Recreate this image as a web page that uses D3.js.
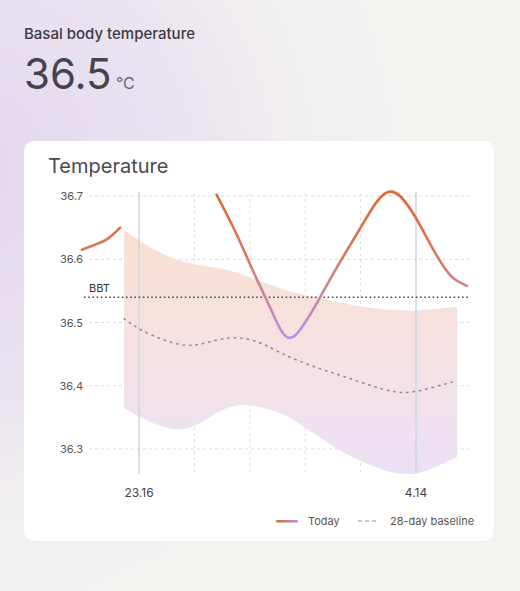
<!DOCTYPE html>
<html>
<head>
<meta charset="utf-8">
<script src="https://cdn.jsdelivr.net/npm/d3@7"></script>
<style>
  html, body { margin: 0; padding: 0; }
  body { width: 520px; height: 591px; overflow: hidden; font-family: Inter, "Noto Sans", sans-serif; }
</style>
</head>
<body>
<svg id="chart" width="520" height="591"></svg>
<script>
// header
var headerTitle = "Basal body temperature";
var currentValue = "36.5";
var unit = "°C";
var cardTitle = "Temperature";

// axes
var yTicks = [36.3, 36.4, 36.5, 36.6, 36.7];
var xTickDays = [0, 5];
var xTickLabels = ["23.16", "4.14"];
var gridDays = [1, 2, 3, 4];
var bbtValue = 36.54;

// today line, two segments (day offset, temp)
var todayEarlyDays = [-1.03, -0.76, -0.56, -0.34];
var todayEarlyTemps = [36.615, 36.624, 36.631, 36.650];
var todayLateDays = [1.40, 1.77, 2.06, 2.31, 2.46, 2.58, 2.69, 2.80, 2.91, 3.09, 3.27, 3.57, 3.99, 4.30, 4.50, 4.71, 5.00, 5.25, 5.56, 5.74, 5.92];
var todayLateTemps = [36.702, 36.640, 36.580, 36.535, 36.505, 36.484, 36.474, 36.477, 36.488, 36.512, 36.540, 36.588, 36.648, 36.695, 36.710, 36.704, 36.667, 36.624, 36.578, 36.565, 36.558];

// 28-day range band
var bandHighDays = [-0.27, 0.25, 0.79, 1.23, 1.64, 2.00, 2.60, 3.21, 3.81, 4.40, 5.00, 5.74];
var bandHighTemps = [36.646, 36.615, 36.594, 36.589, 36.583, 36.572, 36.551, 36.539, 36.528, 36.520, 36.518, 36.525];
var bandLowDays = [-0.27, 0.25, 0.69, 1.05, 1.46, 1.82, 2.18, 2.60, 3.00, 3.50, 4.03, 4.53, 5.00, 5.38, 5.74];
var bandLowTemps = [36.365, 36.339, 36.328, 36.336, 36.362, 36.372, 36.367, 36.357, 36.335, 36.303, 36.279, 36.262, 36.258, 36.272, 36.287];

// 28-day baseline
var baselineDays = [-0.27, 0.02, 0.43, 0.87, 1.23, 1.64, 2.00, 2.31, 2.60, 3.21, 3.81, 4.40, 4.84, 5.25, 5.74];
var baselineTemps = [36.506, 36.488, 36.472, 36.461, 36.468, 36.478, 36.474, 36.464, 36.449, 36.428, 36.412, 36.393, 36.387, 36.396, 36.408];

var legendLabels = ["Today", "28-day baseline"];

function zip(a, b) { return a.map(function(v, i) { return [v, b[i]]; }); }

var svg = d3.select("#chart");
var defs = svg.append("defs");

// page background
svg.append("rect").attr("width", 520).attr("height", 591).attr("fill", "#f3f2ef");
var bg = defs.append("radialGradient").attr("id", "bg")
  .attr("gradientUnits", "userSpaceOnUse")
  .attr("cx", -40).attr("cy", 170).attr("r", 470);
bg.append("stop").attr("offset", "0").attr("stop-color", "#e2d5ef").attr("stop-opacity", 1);
bg.append("stop").attr("offset", "0.5").attr("stop-color", "#e9e0f0").attr("stop-opacity", 0.8);
bg.append("stop").attr("offset", "1").attr("stop-color", "#f3f2ef").attr("stop-opacity", 0);
svg.append("rect").attr("width", 520).attr("height", 591).attr("fill", "url(#bg)");

var x = d3.scaleLinear().domain([-1, 6]).range([83.6, 471.4]);
var y = d3.scaleLinear().domain([36.3, 36.7]).range([449, 196]);

// gradients
var band = defs.append("linearGradient").attr("id", "band")
  .attr("gradientUnits", "userSpaceOnUse")
  .attr("x1", 0).attr("y1", y(36.65)).attr("x2", 0).attr("y2", y(36.26));
band.append("stop").attr("offset", "0").attr("stop-color", "#fae0d2");
band.append("stop").attr("offset", "0.55").attr("stop-color", "#f5e2e4");
band.append("stop").attr("offset", "1").attr("stop-color", "#ebe0f6");

var tg = defs.append("linearGradient").attr("id", "today")
  .attr("gradientUnits", "userSpaceOnUse")
  .attr("x1", 0).attr("y1", y(36.70)).attr("x2", 0).attr("y2", y(36.475));
tg.append("stop").attr("offset", "0").attr("stop-color", "#e2662c");
tg.append("stop").attr("offset", "0.45").attr("stop-color", "#d77a60");
tg.append("stop").attr("offset", "1").attr("stop-color", "#bd8fe8");

var lg = defs.append("linearGradient").attr("id", "todayLegend");
lg.append("stop").attr("offset", "0").attr("stop-color", "#e2662c");
lg.append("stop").attr("offset", "1").attr("stop-color", "#bd8fe8");

// header
svg.append("text").attr("x", 24).attr("y", 39)
  .attr("font-size", 15).attr("font-weight", 500).attr("fill", "#3b3a42")
  .text(headerTitle);
svg.append("text").attr("x", 24).attr("y", 89)
  .attr("font-size", 42).attr("font-weight", 400).attr("fill", "#45444b")
  .text(currentValue);
svg.append("text").attr("x", 116).attr("y", 89)
  .attr("font-size", 16).attr("fill", "#67666d")
  .text(unit);

// card
svg.append("rect").attr("x", 24).attr("y", 141).attr("width", 470).attr("height", 400)
  .attr("rx", 10).attr("fill", "#ffffff");
svg.append("text").attr("x", 48).attr("y", 173)
  .attr("font-size", 20).attr("fill", "#4a4a4f")
  .text(cardTitle);

// horizontal grid + y labels
var g = svg.append("g");
g.selectAll("line.hgrid").data(yTicks).enter().append("line")
  .attr("x1", 89).attr("x2", 470)
  .attr("y1", function(d) { return y(d); }).attr("y2", function(d) { return y(d); })
  .attr("stroke", "#dcdcdc").attr("stroke-dasharray", "3 3");
g.selectAll("text.ylab").data(yTicks).enter().append("text")
  .attr("x", 83).attr("y", function(d) { return y(d) + 4; })
  .attr("text-anchor", "end").attr("font-size", 11).attr("fill", "#555")
  .text(function(d) { return d3.format(".1f")(d); });

// vertical dotted grid
g.selectAll("line.vgrid").data(gridDays).enter().append("line")
  .attr("x1", function(d) { return x(d); }).attr("x2", function(d) { return x(d); })
  .attr("y1", 193).attr("y2", 474)
  .attr("stroke", "#dedede").attr("stroke-dasharray", "3 3");

// band
var line = d3.line().curve(d3.curveBasis)
  .x(function(d) { return x(d[0]); }).y(function(d) { return y(d[1]); });
var high = zip(bandHighDays, bandHighTemps);
var low = zip(bandLowDays, bandLowTemps);
var topPath = line(high);
var botPath = line(low.slice().reverse());
g.append("path")
  .attr("d", topPath + "L" + botPath.slice(1) + "Z")
  .attr("fill", "url(#band)");

// vertical marker lines
g.selectAll("line.mark").data(xTickDays).enter().append("line")
  .attr("x1", function(d) { return x(d); }).attr("x2", function(d) { return x(d); })
  .attr("y1", 192).attr("y2", 474)
  .attr("stroke", "#cbd7e3").attr("stroke-width", 1.5);

// baseline
g.append("path").attr("d", line(zip(baselineDays, baselineTemps)))
  .attr("fill", "none").attr("stroke", "#8e8893").attr("stroke-width", 1.5)
  .attr("stroke-dasharray", "1.5 5").attr("stroke-linecap", "round");

// BBT line
g.append("line").attr("x1", 84).attr("x2", 470)
  .attr("y1", y(bbtValue)).attr("y2", y(bbtValue))
  .attr("stroke", "#4a4a4f").attr("stroke-width", 1.6).attr("stroke-dasharray", "1.6 2.6");
g.append("text").attr("x", 89).attr("y", y(bbtValue) - 5)
  .attr("font-size", 11).attr("fill", "#333").text("BBT");

// today
[zip(todayEarlyDays, todayEarlyTemps), zip(todayLateDays, todayLateTemps)].forEach(function(seg) {
  g.append("path").attr("d", line(seg))
    .attr("fill", "none").attr("stroke", "url(#today)").attr("stroke-width", 2.6)
    .attr("stroke-linecap", "round");
});

// x labels
g.selectAll("text.xlab").data(xTickDays).enter().append("text")
  .attr("x", function(d) { return x(d); }).attr("y", 497)
  .attr("text-anchor", "middle").attr("font-size", 12).attr("fill", "#444")
  .text(function(d, i) { return xTickLabels[i]; });

// legend
var leg = svg.append("g");
leg.append("rect").attr("x", 276).attr("y", 520).attr("width", 22).attr("height", 2.6)
  .attr("rx", 1.3).attr("fill", "url(#todayLegend)");
leg.append("text").attr("x", 308).attr("y", 525).attr("font-size", 11).attr("fill", "#555")
  .text(legendLabels[0]);
leg.append("line").attr("x1", 358).attr("x2", 378).attr("y1", 521).attr("y2", 521)
  .attr("stroke", "#8e8893").attr("stroke-width", 1.2).attr("stroke-dasharray", "4 3");
leg.append("text").attr("x", 390).attr("y", 525).attr("font-size", 11).attr("fill", "#555")
  .text(legendLabels[1]);
</script>
</body>
</html>
